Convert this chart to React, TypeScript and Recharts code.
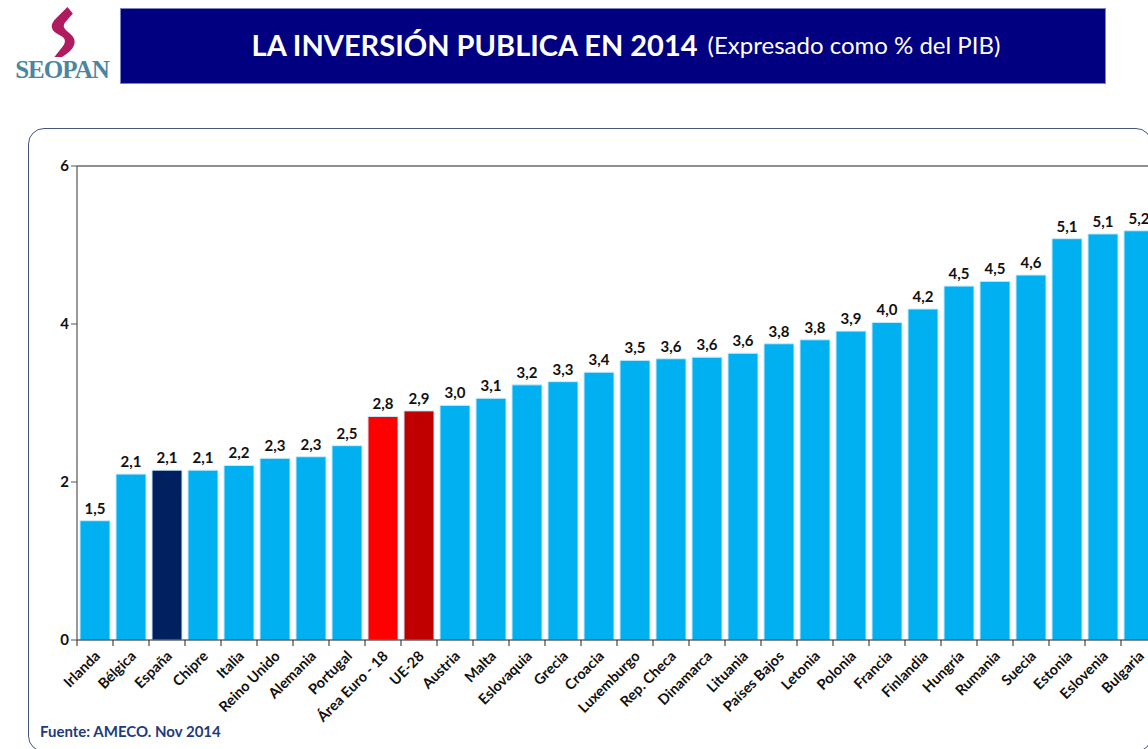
import { BarChart, Bar, XAxis, YAxis, Cell, LabelList, ReferenceLine } from "recharts";

const COUNTRIES = [
  "Irlanda", "Bélgica", "España", "Chipre", "Italia", "Reino Unido", "Alemania", "Portugal",
  "Área Euro - 18", "UE-28", "Austria", "Malta", "Eslovaquia", "Grecia", "Croacia", "Luxemburgo",
  "Rep. Checa", "Dinamarca", "Lituania", "Países Bajos", "Letonia", "Polonia", "Francia",
  "Finlandia", "Hungría", "Rumania", "Suecia", "Estonia", "Eslovenia", "Bulgaria",
];
const INVERSION = [
  1.51, 2.1, 2.15, 2.15, 2.21, 2.3, 2.32, 2.46, 2.83, 2.9, 2.97, 3.06, 3.23, 3.27, 3.39, 3.54,
  3.56, 3.58, 3.63, 3.75, 3.8, 3.91, 4.02, 4.19, 4.48, 4.54, 4.62, 5.08, 5.14, 5.18,
];
const Y_TICKS = [0, 2, 4, 6];

// highlighted bars
const HIGHLIGHT: Record<string, string> = {
  "España": "#002060",
  "Área Euro - 18": "#FF0000",
  "UE-28": "#C00000",
};
const BASE_COLOR = "#00B0F0";

const FONT = "Lato, 'Open Sans', sans-serif";

const data = COUNTRIES.map((c, i) => ({ name: c, value: INVERSION[i] }));

function XTick(props: any) {
  const { x, y, payload } = props;
  const half = 18;
  return (
    <g>
      <line x1={x - half} x2={x - half} y1={y - 8} y2={y - 2} stroke="#222" strokeWidth={1} />
      <text
        x={x + 6}
        y={y + 9}
        transform={`rotate(-45, ${x + 6}, ${y + 9})`}
        textAnchor="end"
        fontFamily={FONT}
        fontWeight={700}
        fontSize={14.5}
        fill="#111"
      >
        {payload.value}
      </text>
    </g>
  );
}

export default function App() {
  return (
    <div
      style={{
        position: "fixed",
        left: 0,
        top: 0,
        width: 1148,
        height: 749,
        overflow: "hidden",
        background: "#fff",
        fontFamily: FONT,
      }}
    >
      {/* logo */}
      <div style={{ position: "absolute", left: 6, top: 6, width: 112, height: 80, textAlign: "center" }}>
        <svg width={44} height={52} viewBox="0 0 40 48" style={{ display: "block", margin: "0 auto" }}>
          <path
            d="M25 1 L13 13 C8 19 11 24 18 27 C23 29 24 33 21 37 L13 47 L20 47 C32 40 35 32 28 26 C22 21 20 19 23 15 L30 7 Z"
            fill="#B01A5E"
          />
        </svg>
        <div
          style={{
            fontFamily: "'Liberation Serif', 'DejaVu Serif', serif",
            fontSize: 25,
            fontWeight: 700,
            color: "#4a86a0",
            lineHeight: "24px",
            letterSpacing: -1,
          }}
        >
          SEOPAN
        </div>
      </div>
      {/* title banner */}
      <div
        style={{
          position: "absolute",
          left: 120,
          top: 8,
          width: 986,
          height: 76,
          background: "#000080",
          border: "1px solid #7b83c4",
          boxSizing: "border-box",
          display: "flex",
          alignItems: "center",
          justifyContent: "center",
          paddingLeft: 26,
          paddingBottom: 4,
          color: "#fff",
          whiteSpace: "nowrap",
        }}
      >
        <span style={{ fontWeight: 700, fontSize: 29 }}>LA INVERSIÓN PUBLICA EN 2014</span>
        <span style={{ fontSize: 24, marginLeft: 10 }}>(Expresado como % del PIB)</span>
      </div>
      {/* panel */}
      <div
        style={{
          position: "absolute",
          left: 28,
          top: 128,
          width: 1124,
          height: 624,
          border: "1.5px solid #46557f",
          borderRadius: 16,
          boxSizing: "border-box",
        }}
      />
      <div style={{ position: "absolute", left: 0, top: 0 }}>
        <BarChart
          width={1160}
          height={749}
          data={data}
          margin={{ top: 166, right: 3, left: 0, bottom: 0 }}
          barCategoryGap={3}
        >
          <XAxis
            dataKey="name"
            interval={0}
            height={109}
            tickLine={false}
            axisLine={{ stroke: "#222", strokeWidth: 1.2 }}
            tick={<XTick />}
          />
          <YAxis
            width={77}
            domain={[0, 6]}
            ticks={Y_TICKS}
            axisLine={{ stroke: "#555", strokeWidth: 1.2 }}
            tickLine={{ stroke: "#555" }}
            tickSize={6}
            tick={{ fontFamily: FONT, fontWeight: 700, fontSize: 15, fill: "#111" }}
          />
          <ReferenceLine y={6} stroke="#222" strokeWidth={1.2} />
          <Bar dataKey="value" isAnimationActive={false} stroke="#c9ecfb" strokeWidth={1}>
            {data.map((d) => (
              <Cell key={d.name} fill={HIGHLIGHT[d.name] ?? BASE_COLOR} />
            ))}
            <LabelList
              dataKey="value"
              position="top"
              offset={7}
              formatter={(v: number) => v.toFixed(1).replace(".", ",")}
              style={{ fontFamily: FONT, fontWeight: 700, fontSize: 15, fill: "#111" }}
            />
          </Bar>
        </BarChart>
      </div>
      <div
        style={{
          position: "absolute",
          left: 40,
          top: 722,
          fontSize: 15,
          fontWeight: 700,
          color: "#1f3b7a",
        }}
      >
        Fuente: AMECO. Nov 2014
      </div>
    </div>
  );
}
